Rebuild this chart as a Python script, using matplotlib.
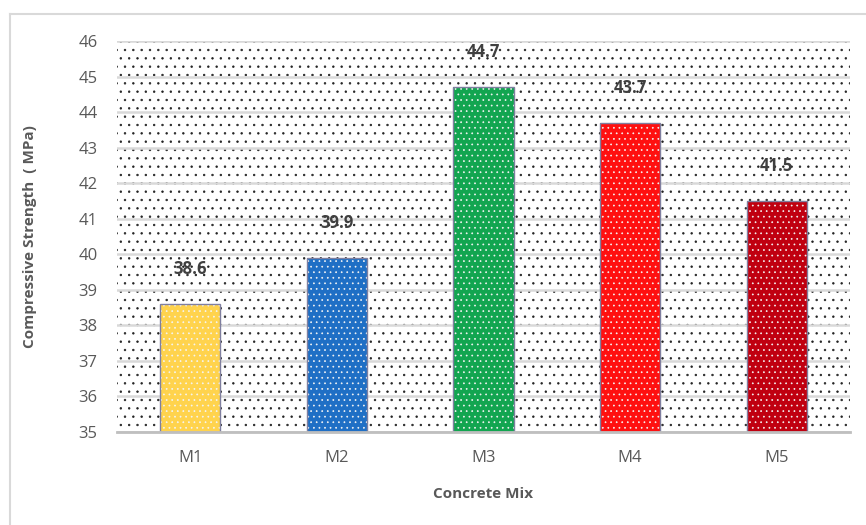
import matplotlib
matplotlib.use("Agg")
import matplotlib.pyplot as plt
from matplotlib.patches import Rectangle
from matplotlib.lines import Line2D

categories = ["M1", "M2", "M3", "M4", "M5"]
values = [38.6, 39.9, 44.7, 43.7, 41.5]
colors = ["#FFD34D", "#1F6FC5", "#12A550", "#FF1010", "#C00010"]
yticks = [35, 36, 37, 38, 39, 40, 41, 42, 43, 44, 45, 46]

plt.rcParams['font.family'] = ['Open Sans', 'DejaVu Sans']
plt.rcParams['hatch.linewidth'] = 0.5

W, H = 866, 525
fig = plt.figure(figsize=(W / 100, H / 100), dpi=100)

# outer chart border (partial, as in reference)
fig.add_artist(Line2D([10 / W, 10 / W], [0, 1 - 14 / H], color="#d9d9d9", lw=1.5, transform=fig.transFigure))
fig.add_artist(Line2D([10 / W, 1], [1 - 14 / H, 1 - 14 / H], color="#d9d9d9", lw=1.5, transform=fig.transFigure))

left, right, top, bottom = 117, 850, 41, 432
ax = fig.add_axes([left / W, 1 - bottom / H, (right - left) / W, (bottom - top) / H])

# dotted plot-area background
bg = Rectangle((0, 0), 1, 1, transform=ax.transAxes, facecolor="white",
               edgecolor="#222222", hatch="..", lw=0, zorder=0)
ax.add_patch(bg)

x = list(range(len(categories)))
ax.set_xlim(-0.5, len(categories) - 0.5)
ax.set_ylim(35, 46)
ax.set_yticks(yticks)
ax.yaxis.grid(True, color="#d9d9d9", lw=1.8, zorder=1)
ax.set_axisbelow(False)

bw = 0.41
base = 35
heights = [v - base for v in values]
ax.bar(x, heights, bottom=base, width=bw, color=colors, edgecolor="#f4f4f4",
       hatch="...", lw=0, zorder=3)
ax.bar(x, heights, bottom=base, width=bw, fill=False, edgecolor="#7f7f9f",
       lw=1.0, zorder=4)

for xi, v in zip(x, values):
    ax.annotate(f"{v}", (xi, v), xytext=(0, 25), textcoords="offset points",
                ha="center", va="center", fontsize=12, fontweight="bold",
                color="#404040", zorder=5)

for s in ["top", "right", "left"]:
    ax.spines[s].set_visible(False)
ax.spines["bottom"].set_color("#bfbfbf")
ax.spines["bottom"].set_linewidth(2.0)
ax.spines["bottom"].set_zorder(6)

ax.set_xticks(x)
ax.set_xticklabels(categories)
ax.tick_params(axis="both", length=0, labelsize=12, labelcolor="#595959")
ax.tick_params(axis="x", pad=13)
ax.tick_params(axis="y", pad=14)

ax.set_xlabel("Concrete Mix", fontsize=11, fontweight="bold", color="#595959", labelpad=15)
ax.set_ylabel("Compressive Strength  ( MPa)", fontsize=11, fontweight="bold", color="#595959", labelpad=30)

fig.savefig("out.png", dpi=100, facecolor="white")
